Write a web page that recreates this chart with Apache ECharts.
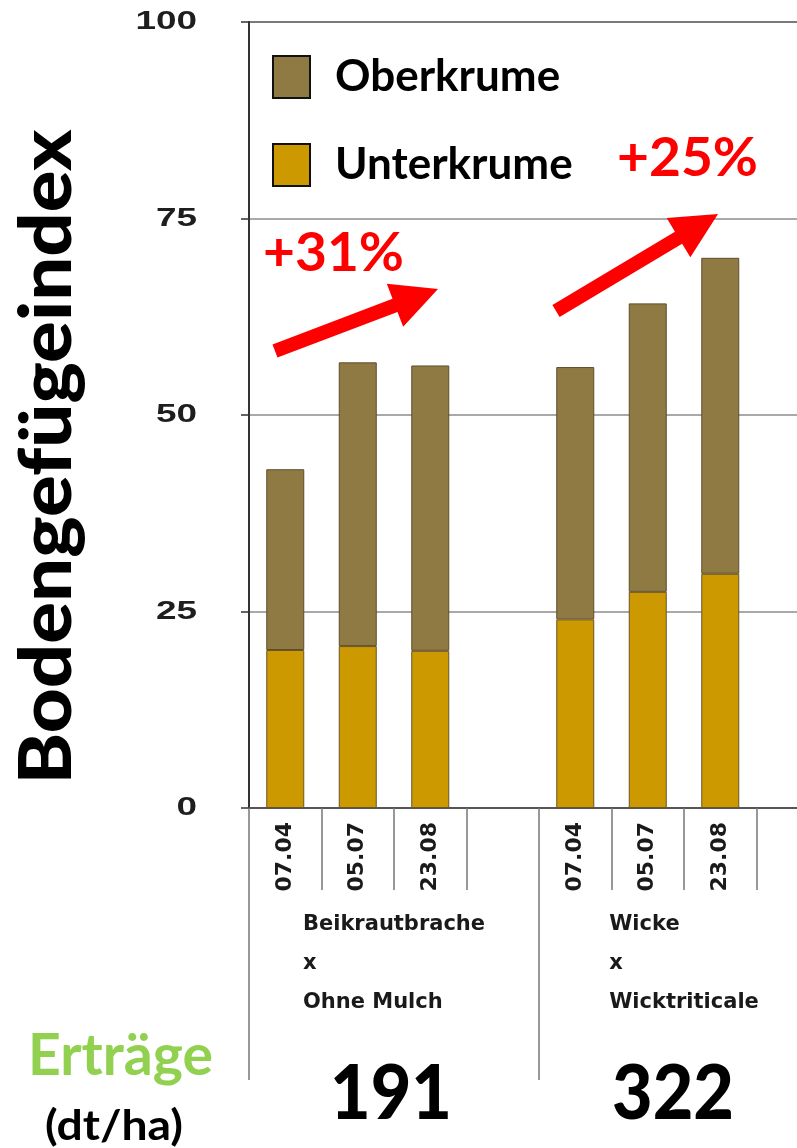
<!DOCTYPE html>
<html>
<head>
<meta charset="utf-8">
<script src="https://cdn.jsdelivr.net/npm/echarts@6/dist/echarts.min.js"></script>
<style>
  html, body { margin: 0; padding: 0; background: #ffffff; overflow: hidden; width: 797px; height: 1148px; }
  /* the plot area continues past the right edge of the page */
  #chart { width: 840px; height: 1148px; }
</style>
</head>
<body>
<div id="chart"></div>
<script>
// Sampling dates per plot (empty slots separate the two treatments)
const dates = ['07.04', '05.07', '23.08', '', '07.04', '05.07', '23.08', ''];
// Treatment names, one line each
const groups = [
  ['Beikrautbrache', 'x', 'Ohne Mulch'],
  ['Wicke', 'x', 'Wicktriticale']
];
// Soil structure index per layer (stacked)
const unterkrume = [20.1, 20.6, 20.0, '-', 24.0, 27.5, 29.8, '-'];
const oberkrume  = [23.0, 36.1, 36.3, '-', 32.1, 36.7, 40.2, '-'];
// Value axis ticks
const yTicks = [0, 25, 50, 75, 100];
// Yields (dt/ha) per treatment
const yields = ['191', '322'];
// Increase annotations
const increases = ['+31%', '+25%'];

const COLOR_OBER = '#8F7A43';
const COLOR_UNTER = '#CC9900';
const RED = '#FF0000';

const chart = echarts.init(document.getElementById('chart'), null, { renderer: 'canvas' });

chart.setOption({
  animation: false,
  backgroundColor: '#ffffff',
  grid: {
    left: 249, top: 22, width: 580, height: 786,
    show: true, borderColor: '#444', borderWidth: 2, backgroundColor: 'transparent'
  },
  legend: {
    data: ['Oberkrume', 'Unterkrume'],
    orient: 'vertical',
    left: 272, top: 55, padding: 0,
    itemWidth: 37, itemHeight: 42, itemGap: 44,
    icon: 'rect',
    itemStyle: { borderColor: '#111', borderWidth: 2 },
    textStyle: {
      fontFamily: 'Lato', fontWeight: 'bold', fontSize: 44, color: '#000',
      padding: [0, 0, 4, 20]
    }
  },
  xAxis: [
    {
      type: 'category',
      position: 'bottom',
      data: dates,
      axisLine: { show: true, lineStyle: { color: '#555', width: 2 } },
      axisTick: { show: true, interval: 0, length: 82, lineStyle: { color: '#777', width: 1.5 } },
      axisLabel: {
        interval: 0, rotate: 90, margin: 14,
        fontFamily: 'DejaVu Sans', fontWeight: 'bold', fontSize: 22, color: '#1a1a1a'
      },
      splitLine: { show: false }
    },
    {
      type: 'category',
      position: 'bottom',
      data: groups.map(g => g.join('\n')),
      axisLine: { show: false },
      axisTick: { show: true, interval: 0, length: 272, lineStyle: { color: '#777', width: 1.5 } },
      axisLabel: {
        interval: 0, margin: 97, align: 'center',
        formatter: v => v.split('\n').map(s => '{g|' + s + '}').join('\n'),
        rich: {
          g: { fontFamily: 'DejaVu Sans', fontWeight: 'bold', fontSize: 21, lineHeight: 39, align: 'left', color: '#1a1a1a' }
        }
      },
      splitLine: { show: false }
    }
  ],
  yAxis: {
    type: 'value',
    min: 0, max: 100, interval: 25,
    axisLine: { show: true, lineStyle: { color: '#333', width: 2 } },
    axisTick: { show: true, length: 8, lineStyle: { color: '#333', width: 1.5 } },
    axisLabel: { show: false },
    splitLine: { show: true, lineStyle: { color: '#8c8c8c', width: 1.5 } }
  },
  series: [
    {
      name: 'Unterkrume', type: 'bar', stack: 'index', xAxisIndex: 0,
      barWidth: 38, data: unterkrume,
      itemStyle: { color: COLOR_UNTER, borderColor: '#6a5526', borderWidth: 1 }
    },
    {
      name: 'Oberkrume', type: 'bar', stack: 'index', xAxisIndex: 0,
      barWidth: 38, data: oberkrume,
      itemStyle: { color: COLOR_OBER, borderColor: '#5e4d28', borderWidth: 1 }
    }
  ]
});

// Text helpers: fit a string to a given width by horizontal scaling
const measureCtx = document.createElement('canvas').getContext('2d');
function textWidth(str, font) {
  measureCtx.font = font;
  return measureCtx.measureText(str).width;
}
function fittedText(str, o) {
  const font = (o.weight || 'bold') + ' ' + o.size + 'px ' + o.family;
  const sx = o.width ? o.width / textWidth(str, font) : (o.scaleX || 1);
  const align = o.align || 'left';
  return {
    type: 'text', x: o.x, y: o.y, rotation: o.rotation || 0,
    scaleX: sx, scaleY: 1, z: 100,
    style: {
      text: str, font: font, fill: o.color || '#000',
      align: align, verticalAlign: 'middle',
      textAlign: align, textVerticalAlign: 'middle'
    }
  };
}
// Block arrow from tail to tip
function arrowPoints(tail, tip, shaftW, headL, headW) {
  const dx = tip[0] - tail[0], dy = tip[1] - tail[1];
  const len = Math.hypot(dx, dy);
  const ux = dx / len, uy = dy / len;
  const nx = -uy, ny = ux;
  const bx = tip[0] - ux * headL, by = tip[1] - uy * headL;
  return [
    [tail[0] + nx * shaftW / 2, tail[1] + ny * shaftW / 2],
    [bx + nx * shaftW / 2, by + ny * shaftW / 2],
    [bx + nx * headW / 2, by + ny * headW / 2],
    tip,
    [bx - nx * headW / 2, by - ny * headW / 2],
    [bx - nx * shaftW / 2, by - ny * shaftW / 2],
    [tail[0] - nx * shaftW / 2, tail[1] - ny * shaftW / 2]
  ];
}

const graphics = [];

// Value axis labels (wide bold digits)
yTicks.forEach(v => {
  const py = chart.convertToPixel({ yAxisIndex: 0 }, v);
  graphics.push(fittedText(String(v), {
    x: 197, y: py, size: 26, family: '"Liberation Sans"', color: '#1e1e1e',
    align: 'right', scaleX: 1.42
  }));
});

// Axis title
graphics.push(fittedText('Bodengefügeindex', {
  x: 48, y: 457, size: 72, weight: '900', family: 'Lato', color: '#000',
  align: 'center', rotation: Math.PI / 2, width: 655
}));

// Yield row
graphics.push(fittedText('Erträge', {
  x: 28, y: 1056, size: 58, family: 'Lato', color: '#92D050', width: 185
}));
graphics.push(fittedText('(dt/ha)', {
  x: 45, y: 1126, size: 42, family: 'Lato', color: '#000', width: 138
}));
const yieldX = [391, 673];
yields.forEach((t, i) => {
  graphics.push(fittedText(t, {
    x: yieldX[i], y: 1094, size: 77, weight: '900', family: 'Lato', color: '#000',
    align: 'center', width: 122
  }));
});

// Increase arrows and labels
const arrows = [
  { tail: [275, 351], tip: [438, 289], label: [263, 254] },
  { tail: [556, 311], tip: [718, 214], label: [617, 159] }
];
arrows.forEach((a, i) => {
  graphics.push({
    type: 'polygon', z: 90,
    shape: { points: arrowPoints(a.tail, a.tip, 14, 46, 46) },
    style: { fill: RED }
  });
  graphics.push(fittedText(increases[i], {
    x: a.label[0], y: a.label[1], size: 54, family: 'Lato', color: RED, width: 141
  }));
});

chart.setOption({ graphic: graphics });
</script>
</body>
</html>
